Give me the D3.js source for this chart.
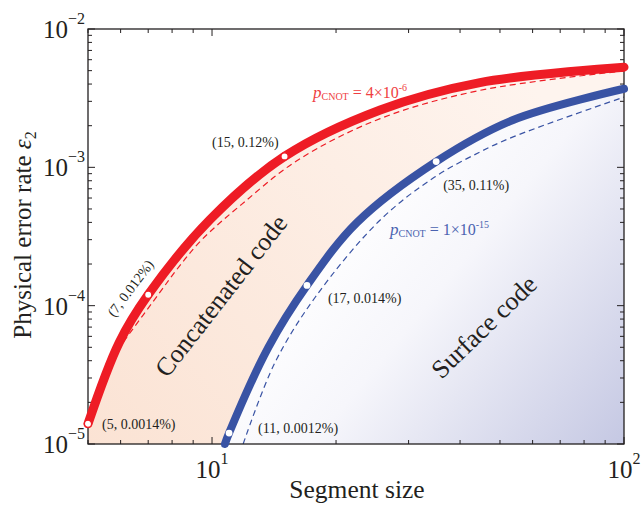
<!DOCTYPE html>
<html>
<head>
<meta charset="utf-8">
<script src="https://cdn.jsdelivr.net/npm/d3@7"></script>
<style>
  body { margin: 0; background: #fff; }
</style>
</head>
<body>
<div id="chart"></div>
<script>
// segment size vs physical error rate
var redX  = [5, 5.95, 7, 9.9, 15, 25.6, 44.7, 100];
var redY  = [1.4e-5, 5.4e-5, 1.2e-4, 4.2e-4, 1.2e-3, 2.6e-3, 4.1e-3, 5.3e-3];
var redDashX = [6.1, 7.4, 8.3, 9.45, 11.8, 16.1, 25.6, 44.7, 100];
var redDashY = [5.5e-5, 1.2e-4, 1.9e-4, 3.0e-4, 5.4e-4, 1.12e-3, 2.25e-3, 3.6e-3, 4.97e-3];
var blueX = [10.75, 11, 13.7, 17, 22.5, 35, 53.8, 100];
var blueY = [1e-5, 1.2e-5, 5.0e-5, 1.4e-4, 4.0e-4, 1.1e-3, 2.2e-3, 3.7e-3];
var blueDashX = [11.9, 14.2, 17.8, 25.6, 34.7, 44.7, 53.8, 100];
var blueDashY = [1e-5, 3.85e-5, 1.15e-4, 4.16e-4, 8.5e-4, 1.29e-3, 1.66e-3, 3.22e-3];

// marked points and their labels
var redPtsX = [5, 7, 15];
var redPtsY = [1.4e-5, 1.2e-4, 1.2e-3];
var redPtsLabel = ['(5, 0.0014%)', '(7, 0.012%)', '(15, 0.12%)'];
var bluePtsX = [11, 17, 35];
var bluePtsY = [1.2e-5, 1.4e-4, 1.1e-3];
var bluePtsLabel = ['(11, 0.0012%)', '(17, 0.014%)', '(35, 0.11%)'];

var xTickVals = [10, 100];
var xTickExp = ['1', '2'];
var yTickVals = [1e-5, 1e-4, 1e-3, 1e-2];
var yTickExp = ['\u22125', '\u22124', '\u22123', '\u22122'];

var zip = function(xs, ys) { return xs.map(function(v, i) { return [v, ys[i]]; }); };
var red = zip(redX, redY), redDash = zip(redDashX, redDashY);
var blue = zip(blueX, blueY), blueDash = zip(blueDashX, blueDashY);

var W = 642, H = 506;
var margin = {top: 29, right: 18, bottom: 62, left: 88};
var width = W - margin.left - margin.right;
var height = H - margin.top - margin.bottom;
var FONT = '"Liberation Serif", "Times New Roman", Times, "DejaVu Serif", serif';

var svg = d3.select('#chart').append('svg')
  .attr('width', W).attr('height', H)
  .attr('font-family', FONT)
  .style('font-family', FONT);

var defs = svg.append('defs');
defs.append('clipPath').attr('id', 'plotclip')
  .append('rect').attr('width', width).attr('height', height);

var peach = defs.append('linearGradient').attr('id', 'peach')
  .attr('gradientUnits', 'userSpaceOnUse')
  .attr('x1', 0).attr('y1', height).attr('x2', 420).attr('y2', 30);
peach.append('stop').attr('offset', 0).attr('stop-color', '#fbe3d4');
peach.append('stop').attr('offset', 1).attr('stop-color', '#fef4ee');

var lav = defs.append('linearGradient').attr('id', 'lav')
  .attr('gradientUnits', 'userSpaceOnUse')
  .attr('x1', 250).attr('y1', 180).attr('x2', width).attr('y2', height);
lav.append('stop').attr('offset', 0).attr('stop-color', '#ffffff');
lav.append('stop').attr('offset', 0.35).attr('stop-color', '#f6f6fb');
lav.append('stop').attr('offset', 1).attr('stop-color', '#c5c8e3');

var g = svg.append('g')
  .attr('transform', 'translate(' + margin.left + ',' + margin.top + ')');

var x = d3.scaleLog().domain([5, 100]).range([0, width]);
var y = d3.scaleLog().domain([1e-5, 1e-2]).range([height, 0]);

var line = d3.line()
  .x(function(d) { return x(d[0]); })
  .y(function(d) { return y(d[1]); })
  .curve(d3.curveCatmullRom.alpha(0.5));
var area = d3.area()
  .x(function(d) { return x(d[0]); })
  .y0(height)
  .y1(function(d) { return y(d[1]); })
  .curve(d3.curveCatmullRom.alpha(0.5));

// shaded regions
var fills = g.append('g').attr('clip-path', 'url(#plotclip)');
fills.append('rect').attr('x', 0).attr('y', y(redY[0]))
  .attr('width', 2).attr('height', height - y(redY[0])).attr('fill', '#fbe3d4');
fills.append('path').datum(red)
  .attr('d', area).attr('fill', 'url(#peach)');
fills.append('path').datum(blue)
  .attr('d', area).attr('fill', 'url(#lav)');

// dashed curves
var dashes = g.append('g').attr('clip-path', 'url(#plotclip)');
dashes.append('path').datum(redDash).attr('d', line)
  .attr('fill', 'none').attr('stroke', '#ee1c25')
  .attr('stroke-width', 1.2).attr('stroke-dasharray', '6,4');
dashes.append('path').datum(blueDash).attr('d', line)
  .attr('fill', 'none').attr('stroke', '#3953a4')
  .attr('stroke-width', 1.2).attr('stroke-dasharray', '6,4');

// frame and ticks
var xMinor = [], yMinor = [];
[1, 10].forEach(function(b) { for (var k = 2; k <= 9; k++) { if (b * k >= 5 && b * k < 100) xMinor.push(b * k); } });
[1e-5, 1e-4, 1e-3].forEach(function(b) { for (var k = 2; k <= 9; k++) yMinor.push(b * k); });

var ax = g.append('g').attr('stroke', '#231f20').attr('stroke-width', 1);
ax.append('rect').attr('width', width).attr('height', height)
  .attr('fill', 'none').attr('stroke-width', 1.3);
xTickVals.concat(xMinor).forEach(function(v) {
  var len = xTickVals.indexOf(v) >= 0 ? 7 : 4;
  ax.append('line').attr('x1', x(v)).attr('x2', x(v)).attr('y1', height).attr('y2', height - len);
  ax.append('line').attr('x1', x(v)).attr('x2', x(v)).attr('y1', 0).attr('y2', len);
});
yTickVals.concat(yMinor).forEach(function(v) {
  var len = yTickVals.indexOf(v) >= 0 ? 7 : 4;
  ax.append('line').attr('y1', y(v)).attr('y2', y(v)).attr('x1', 0).attr('x2', len);
  ax.append('line').attr('y1', y(v)).attr('y2', y(v)).attr('x1', width).attr('x2', width - len);
});

// tick labels
yTickVals.forEach(function(v, i) {
  var t = g.append('text').attr('x', -3).attr('y', y(v) + 9)
    .attr('text-anchor', 'end').attr('fill', '#231f20');
  t.append('tspan').attr('font-size', 25).text('10');
  t.append('tspan').attr('font-size', 16).attr('dy', -14).text(yTickExp[i]);
});
xTickVals.forEach(function(v, i) {
  var t = g.append('text').attr('x', x(v)).attr('y', height + 34)
    .attr('text-anchor', 'middle').attr('fill', '#231f20');
  t.append('tspan').attr('font-size', 25).text('10');
  t.append('tspan').attr('font-size', 16).attr('dy', -14).text(xTickExp[i]);
});

// axis titles
g.append('text').attr('x', width / 2 + 1).attr('y', height + 54)
  .attr('text-anchor', 'middle').attr('font-size', 25.5).attr('fill', '#231f20')
  .text('Segment size');
var yt = g.append('text')
  .attr('transform', 'translate(-57,' + 206 + ') rotate(-90)')
  .attr('text-anchor', 'middle').attr('font-size', 25).attr('fill', '#231f20');
yt.append('tspan').text('Physical error rate ');
yt.append('tspan').attr('font-style', 'italic').text('\u03b5');
yt.append('tspan').attr('font-size', 16).attr('dy', 5).text('2');

// solid curves
g.append('path').datum(red).attr('d', line)
  .attr('fill', 'none').attr('stroke', '#ee1c25')
  .attr('stroke-width', 9).attr('stroke-linecap', 'round').attr('stroke-linejoin', 'round');
g.append('path').datum(blue).attr('d', line)
  .attr('fill', 'none').attr('stroke', '#3953a4')
  .attr('stroke-width', 8).attr('stroke-linecap', 'round').attr('stroke-linejoin', 'round');

// marked points
g.selectAll('circle.rp').data(zip(redPtsX, redPtsY)).enter().append('circle')
  .attr('class', 'rp')
  .attr('cx', function(d) { return x(d[0]); })
  .attr('cy', function(d) { return y(d[1]); })
  .attr('r', 3.6).attr('fill', '#fff').attr('stroke', '#ee1c25').attr('stroke-width', 1.3);
g.selectAll('circle.bp').data(zip(bluePtsX, bluePtsY)).enter().append('circle')
  .attr('class', 'bp')
  .attr('cx', function(d) { return x(d[0]); })
  .attr('cy', function(d) { return y(d[1]); })
  .attr('r', 3.4).attr('fill', '#fff');

// point labels
function ptLabel(txt, px, py, rot, anchor) {
  g.append('text')
    .attr('transform', 'translate(' + px + ',' + py + ') rotate(' + rot + ')')
    .attr('text-anchor', anchor || 'start')
    .attr('font-size', 14).attr('fill', '#231f20').text(txt);
}
ptLabel(redPtsLabel[0], x(redPtsX[0]) + 14, y(redPtsY[0]) + 5, 0);
ptLabel(redPtsLabel[1], x(redPtsX[1]) - 34, y(redPtsY[1]) + 23, -53);
ptLabel(redPtsLabel[2], x(redPtsX[2]) - 6, y(redPtsY[2]) - 9, 0, 'end');
ptLabel(bluePtsLabel[0], x(bluePtsX[0]) + 29, y(bluePtsY[0]) + 0, 0);
ptLabel(bluePtsLabel[1], x(bluePtsX[1]) + 21, y(bluePtsY[1]) + 18, 0);
ptLabel(bluePtsLabel[2], x(bluePtsX[2]) + 7, y(bluePtsY[2]) + 28, 0);

// region names
g.append('text').attr('transform', 'translate(140,272) rotate(-52)')
  .attr('text-anchor', 'middle').attr('font-size', 26).attr('fill', '#231f20')
  .text('Concatenated code');
g.append('text').attr('transform', 'translate(402,304) rotate(-44)')
  .attr('text-anchor', 'middle').attr('font-size', 26).attr('fill', '#231f20')
  .text('Surface code');

// p_CNOT labels
function pLabel(px, py, color, mant, ex) {
  var t = g.append('text').attr('x', px).attr('y', py).attr('fill', color);
  t.append('tspan').attr('font-style', 'italic').attr('font-size', 17).text('p');
  t.append('tspan').attr('font-size', 10).attr('dy', 2).text('CNOT');
  t.append('tspan').attr('font-size', 16).attr('dy', -2).text(' = ' + mant + '\u00d710');
  t.append('tspan').attr('font-size', 10).attr('dy', -7).text(ex);
}
pLabel(225, 69, '#ef3e42', '4', '-6');
pLabel(302, 206, '#4a63b0', '1', '-15');
</script>
</body>
</html>
